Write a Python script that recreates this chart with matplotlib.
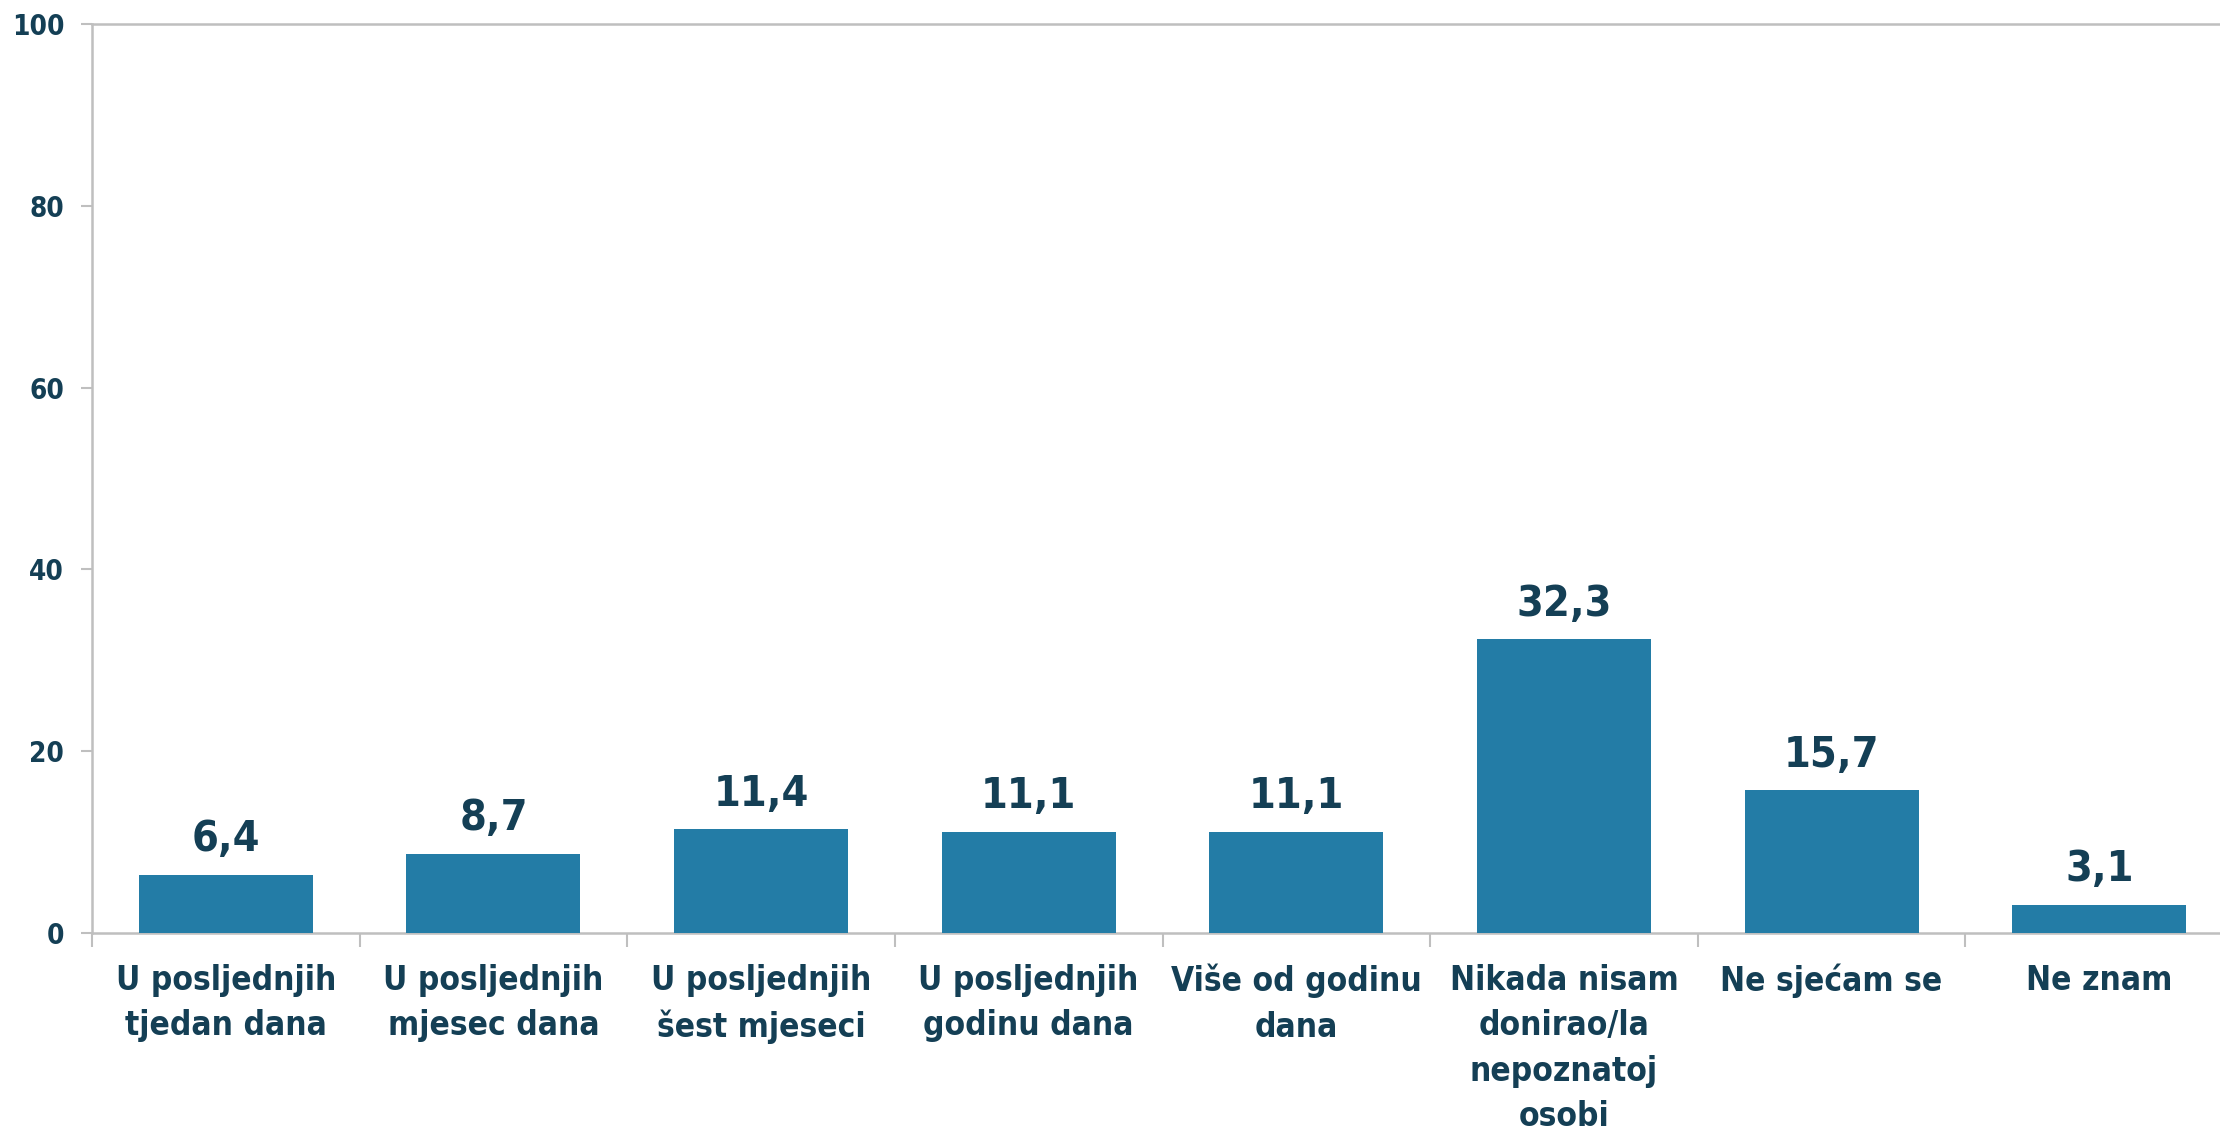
import matplotlib
matplotlib.use("Agg")
import matplotlib.pyplot as plt
import numpy as np

categories = [
    "U posljednjih\ntjedan dana",
    "U posljednjih\nmjesec dana",
    "U posljednjih\nšest mjeseci",
    "U posljednjih\ngodinu dana",
    "Više od godinu\ndana",
    "Nikada nisam\ndonirao/la\nnepoznatoj\nosobi",
    "Ne sjećam se",
    "Ne znam",
]
values = [6.4, 8.7, 11.4, 11.1, 11.1, 32.3, 15.7, 3.1]
yticks = [0, 20, 40, 60, 80, 100]

plt.rcParams['font.family'] = ['DejaVu Sans']
plt.rcParams['font.weight'] = 'bold'
plt.rcParams['font.stretch'] = 'condensed'

text_color = "#143f55"
bar_color = "#237ca6"
axis_color = "#bfbfbf"

fig = plt.figure(figsize=(22.2, 11.32), dpi=100)
ax = fig.add_axes([92/2220, 1-933/1132, (2233-92)/2220, (933-24)/1132])

x = np.arange(len(categories))
bars = ax.bar(x, values, width=0.65, color=bar_color, zorder=3)

for xi, v in zip(x, values):
    ax.annotate(f"{v:.1f}".replace(".", ","), (xi, v), xytext=(0, 17),
                textcoords="offset points", ha="center", va="baseline",
                fontsize=31, fontweight="bold", fontstretch="condensed", color=text_color)

ax.set_xlim(-0.5, len(categories) - 0.5)
ax.set_ylim(0, 100)
ax.set_yticks(yticks)
ax.set_yticklabels([str(t) for t in yticks], fontsize=20, fontweight="bold",
                   fontstretch="condensed", color=text_color)

ax.set_xticks(x)
ax.set_xticklabels(categories, fontsize=24, fontweight="bold", fontstretch="condensed",
                   color=text_color, linespacing=1.48)
ax.set_xticks(np.arange(-0.5, len(categories) - 0.5 + 0.01, 1.0), minor=True)
ax.tick_params(axis="x", which="major", length=0, pad=22)
ax.tick_params(axis="x", which="minor", length=10, width=1.5, color=axis_color)
ax.tick_params(axis="y", which="major", length=8, width=1.5, color=axis_color, pad=12)

for side in ["left", "bottom", "top"]:
    ax.spines[side].set_color(axis_color)
    ax.spines[side].set_linewidth(1.8)
ax.spines["right"].set_visible(False)

fig.savefig("out.png", dpi=100, facecolor="white")
